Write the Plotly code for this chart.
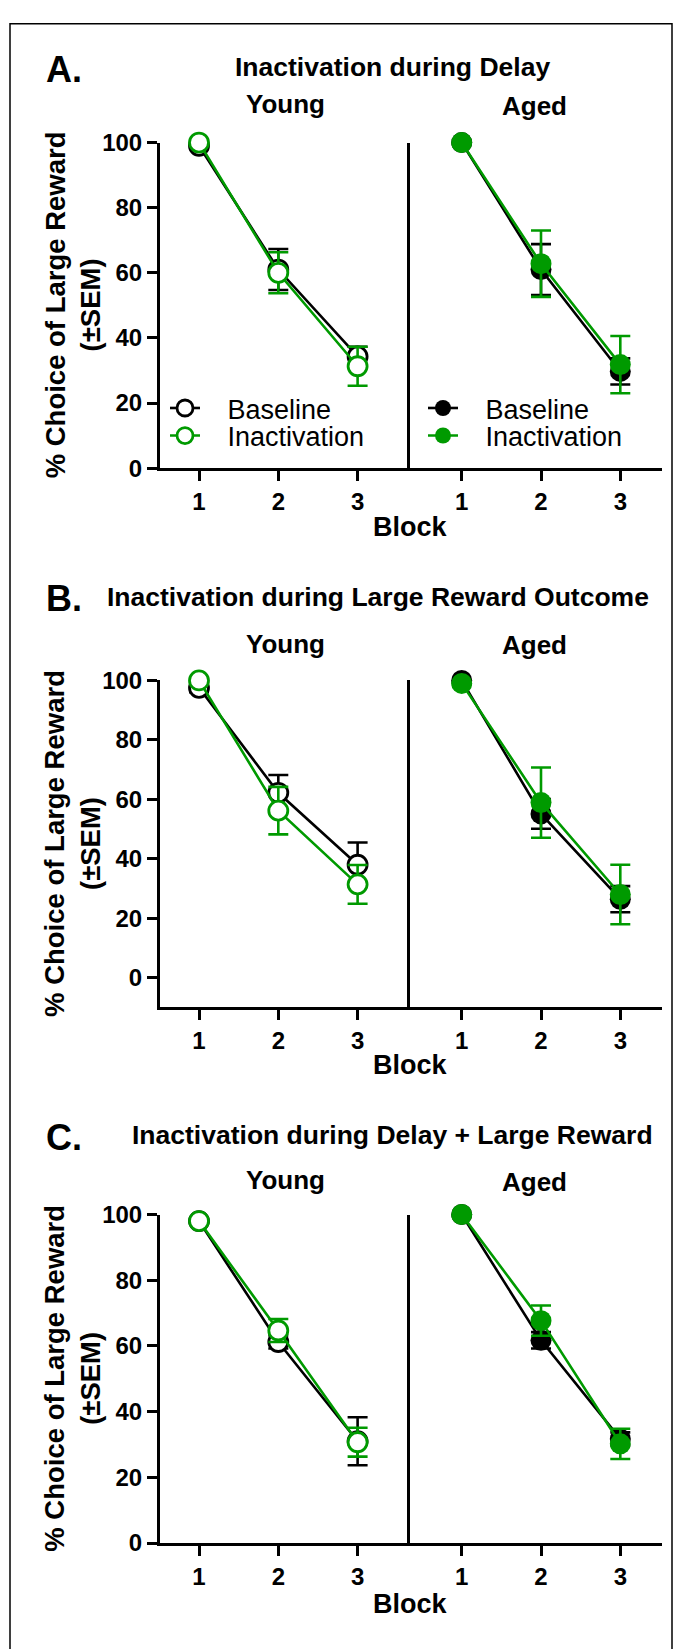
import plotly.graph_objects as go

W, H = 682, 1649
GREEN = "#009A00"
BLACK = "#000000"
FONT = "Liberation Sans, Arial, Helvetica, sans-serif"

blocks = [1, 2, 3]
tick_vals_y = [0, 20, 40, 60, 80, 100]

panel_letters = ["A.", "B.", "C."]
panel_titles = ["Inactivation during Delay",
                "Inactivation during Large Reward Outcome",
                "Inactivation during Delay + Large Reward"]
group_names = ["Young", "Aged"]
series_names = ["Baseline", "Inactivation"]

# Panel A
A_young_base = [99, 61, 34.3]
A_young_base_sem = [1, 6.3, 3]
A_young_inact = [100, 60, 31.3]
A_young_inact_sem = [0.5, 6.3, 6]
A_aged_base = [100, 61, 29.7]
A_aged_base_sem = [0.5, 7.8, 4]
A_aged_inact = [100, 62.8, 31.8]
A_aged_inact_sem = [0.5, 10.2, 8.8]

# Panel B
B_young_base = [97.5, 62.2, 38]
B_young_base_sem = [1.5, 6, 7.5]
B_young_inact = [100, 56.2, 31.4]
B_young_inact_sem = [0.5, 8, 6.5]
B_aged_base = [100, 55.1, 26.4]
B_aged_base_sem = [0.5, 5, 4.4]
B_aged_inact = [99, 58.9, 28]
B_aged_inact_sem = [0.5, 11.8, 10]

# Panel C
C_young_base = [98, 61.2, 31]
C_young_base_sem = [1, 2, 7.3]
C_young_inact = [98, 64.7, 30.7]
C_young_inact_sem = [1, 3.5, 4.4]
C_aged_base = [100, 61.7, 31.7]
C_aged_base_sem = [0.5, 2.5, 2]
C_aged_inact = [100, 67.7, 30.2]
C_aged_inact_sem = [0.5, 4.6, 4.6]

panels = [
    dict(young=[(A_young_base, A_young_base_sem), (A_young_inact, A_young_inact_sem)],
         aged=[(A_aged_base, A_aged_base_sem), (A_aged_inact, A_aged_inact_sem)]),
    dict(young=[(B_young_base, B_young_base_sem), (B_young_inact, B_young_inact_sem)],
         aged=[(B_aged_base, B_aged_base_sem), (B_aged_inact, B_aged_inact_sem)]),
    dict(young=[(C_young_base, C_young_base_sem), (C_young_inact, C_young_inact_sem)],
         aged=[(C_aged_base, C_aged_base_sem), (C_aged_inact, C_aged_inact_sem)]),
]

# ---------- layout geometry (pixels) ----------
def px(x):
    return x / W

def py(y):
    return 1 - y / H

X_LEFT, X_DIV, X_RIGHT = 160, 410, 662
UNIT = 79.3
young_range = [1 - (199 - X_LEFT) / UNIT, 1 - (199 - X_LEFT) / UNIT + (X_DIV - X_LEFT) / UNIT]
aged_range = [1 - (461.7 - X_DIV) / UNIT, 1 + (X_RIGHT - 461.7) / UNIT]

geo = [
    dict(top=130.7, bot=461.7, yr=[0, 100], ly=56, ty=54, gy=92, by=522, tx=392),
    dict(top=677.5, bot=1010, yr=[-10, 100], ly=594, ty=593, gy=640, by=1069, tx=378),
    dict(top=1220.5, bot=1554.5, yr=[0, 100], ly=1142, ty=1140, gy=1185, by=1616, tx=392),
]

fig = go.Figure()
layout = dict(
    width=W, height=H, margin=dict(l=0, r=0, t=0, b=0),
    paper_bgcolor="white", plot_bgcolor="rgba(0,0,0,0)",
    font=dict(family=FONT, color="black"),
    annotations=[], shapes=[],
)

colors = [BLACK, GREEN]
axis_common = dict(showgrid=False, zeroline=False, linecolor="black", linewidth=3,
                   ticks="outside", ticklen=10, tickwidth=3, tickcolor="black",
                   tickfont=dict(family=FONT, size=24, color="black", weight="bold"),
                   fixedrange=True)

legend_ids = [["legend", "legend2"], ["legend3", "legend4"]]
PAD = "\u00a0\u00a0\u00a0"  # gap between legend symbol and label

for i, (p, g) in enumerate(zip(panels, geo)):
    ny, na = 2 * i + 1, 2 * i + 2
    ydom = [py(g["bot"]), py(g["top"])]
    layout[f"xaxis{ny}"] = dict(axis_common, domain=[px(X_LEFT), px(X_DIV)], range=young_range,
                                anchor=f"y{ny}", showline=True, tickvals=blocks,
                                ticktext=[str(b) for b in blocks])
    layout[f"yaxis{ny}"] = dict(axis_common, domain=ydom, range=g["yr"], anchor=f"x{ny}",
                                showline=True, tickvals=tick_vals_y)
    layout[f"xaxis{na}"] = dict(axis_common, domain=[px(X_DIV), px(X_RIGHT)], range=aged_range,
                                anchor=f"y{na}", showline=True, tickvals=blocks,
                                ticktext=[str(b) for b in blocks])
    layout[f"yaxis{na}"] = dict(showgrid=False, zeroline=False, domain=ydom, range=g["yr"],
                                anchor=f"x{na}", showline=True, linecolor="black", linewidth=2.5,
                                ticks="", showticklabels=False, fixedrange=True)

    for gi, (grp, xn, filled) in enumerate([("young", ny, False), ("aged", na, True)]):
        for k, (vals, sem) in enumerate(p[grp]):
            c = colors[k]
            if filled:
                marker = dict(symbol="circle", size=21, color=c, line=dict(color=c, width=0))
            else:
                marker = dict(symbol="circle", size=19, color="white", line=dict(color=c, width=2.8))
            fig.add_trace(go.Scatter(
                x=blocks, y=vals, mode="lines+markers",
                line=dict(color=c, width=2.6),
                marker=marker,
                error_y=dict(type="data", array=sem, visible=True, color=c, thickness=2.6, width=10),
                xaxis=f"x{xn}", yaxis=f"y{xn}", cliponaxis=False,
                name=PAD + series_names[k], showlegend=(i == 0), legend=legend_ids[gi][k],
                hoverinfo="skip",
            ))

    ann = layout["annotations"]
    ann.append(dict(text=f"<b>{panel_letters[i]}</b>", x=px(44), y=py(g["ly"]), xref="paper", yref="paper",
                    xanchor="left", yanchor="middle", showarrow=False, font=dict(size=36)))
    ann.append(dict(text=f"<b>{panel_titles[i]}</b>", x=px(g["tx"]), y=py(g["ty"]), xref="paper", yref="paper",
                    xanchor="center", yanchor="middle", showarrow=False, font=dict(size=26.5)))
    ann.append(dict(text=f"<b>{group_names[0]}</b>", x=px((X_LEFT + X_DIV) / 2), y=py(g["gy"]), xref="paper",
                    yref="paper", xanchor="center", yanchor="middle", showarrow=False, font=dict(size=26)))
    ann.append(dict(text=f"<b>{group_names[1]}</b>", x=px((X_DIV + X_RIGHT) / 2 - 2), y=py(g["gy"] + 2),
                    xref="paper", yref="paper", xanchor="center", yanchor="middle", showarrow=False,
                    font=dict(size=26)))
    ann.append(dict(text="<b>% Choice of Large Reward<br>(±SEM)</b>", x=px(73), y=py((g["top"] + g["bot"]) / 2),
                    xref="paper", yref="paper", xanchor="center", yanchor="middle", textangle=-90,
                    showarrow=False, font=dict(size=27.5)))
    ann.append(dict(text="<b>Block</b>", x=px(410), y=py(g["by"]), xref="paper", yref="paper",
                    xanchor="center", yanchor="middle", showarrow=False, font=dict(size=27)))

# outer frame (bottom edge falls outside the page, as in the original)
layout["shapes"].append(dict(type="rect", xref="paper", yref="paper", x0=px(10), x1=px(672),
                             y0=py(1700), y1=py(10), line=dict(color="black", width=1.5)))

leg_common = dict(bgcolor="rgba(0,0,0,0)", font=dict(family=FONT, size=27, color="black"),
                  xanchor="left", yanchor="middle", itemwidth=30, tracegroupgap=0,
                  itemclick=False, itemdoubleclick=False)
layout["legend"] = dict(leg_common, x=px(165), y=py(401))
layout["legend2"] = dict(leg_common, x=px(165), y=py(429))
layout["legend3"] = dict(leg_common, x=px(423), y=py(401))
layout["legend4"] = dict(leg_common, x=px(423), y=py(429))

fig.update_layout(**layout)
fig.write_html("out.html")
